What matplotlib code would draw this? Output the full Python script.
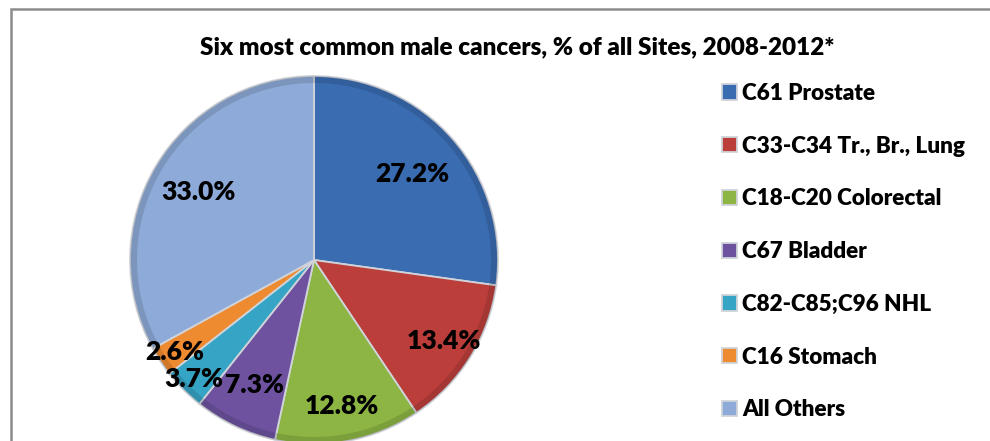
import matplotlib
matplotlib.use("Agg")
import matplotlib.pyplot as plt
from matplotlib.patches import Rectangle
import numpy as np

plt.rcParams["font.family"] = ["Lato", "DejaVu Sans"]

sites = [
    "C61 Prostate",
    "C33-C34 Tr., Br., Lung",
    "C18-C20 Colorectal",
    "C67 Bladder",
    "C82-C85;C96 NHL",
    "C16 Stomach",
    "All Others",
]
shares = [27.2, 13.4, 12.8, 7.3, 3.7, 2.6, 33.0]

colors = ["#3a6cb2", "#bb3e3b", "#8db544", "#6e52a0",
          "#36a5c5", "#ee8a2f", "#8eaad8"]
# radial position of each percentage label (fraction of radius)
label_r = [0.71, 0.83, 0.81, 0.75, 0.92, 0.91, 0.73]

WEIGHT = "heavy"

fig = plt.figure(figsize=(9.9, 4.41), dpi=100)
ax = fig.add_axes([0, 0, 1, 1])

cx, cy, rad = 314, 181, 184

wedges, _ = ax.pie(
    shares,
    colors=colors,
    startangle=90,
    counterclock=False,
    center=(cx, cy),
    radius=rad,
    wedgeprops=dict(edgecolor="#d0d4da", linewidth=1.3),
)

# soft darker rim, a hint of the bevel look
ax.pie(
    shares,
    colors=["black"] * len(shares),
    startangle=90,
    counterclock=False,
    center=(cx, cy),
    radius=rad,
    wedgeprops=dict(width=7, alpha=0.12, linewidth=0),
)

# percentage labels
for w, v, r in zip(wedges, shares, label_r):
    ang = np.deg2rad((w.theta1 + w.theta2) / 2)
    ax.text(cx + r * rad * np.cos(ang), cy + r * rad * np.sin(ang),
            "%.1f%%" % v, ha="center", va="center",
            fontsize=19, fontweight=WEIGHT, color="black")

ax.set_xlim(0, 990)
ax.set_ylim(0, 441)
ax.set_aspect("equal")
ax.set_axis_off()

ax.text(517, 441 - 47,
        "Six most common male cancers, % of all Sites, 2008-2012*",
        ha="center", va="center", fontsize=17.5, fontweight=WEIGHT)

ax.legend(
    wedges, sites,
    loc="upper left",
    bbox_to_anchor=(713 / 990, 1 - 74 / 441),
    frameon=False,
    prop=dict(size=16.2, weight=WEIGHT),
    handlelength=0.67,
    handleheight=0.67,
    handletextpad=0.22,
    labelspacing=1.41,
    borderaxespad=0,
)

# outer chart border (runs off the right and bottom edges)
fig.patches.append(Rectangle((11, -20), 1000, 441 - 9 + 20,
                             transform=None, fill=False,
                             edgecolor="#8c8c8c", linewidth=1.8))

fig.savefig("out.png", dpi=100)
plt.close(fig)
